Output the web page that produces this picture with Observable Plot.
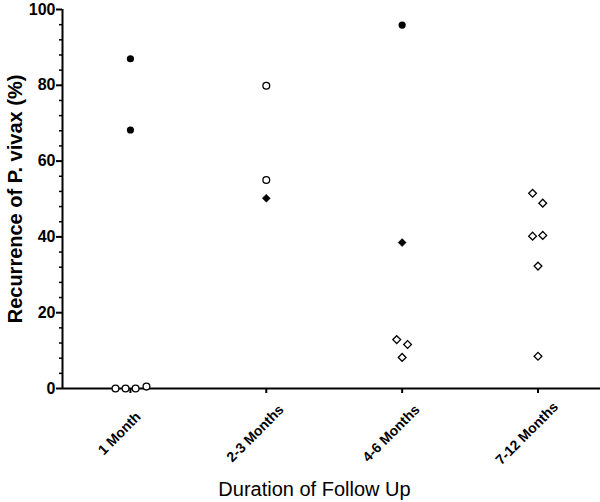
<!DOCTYPE html>
<html><head><meta charset="utf-8">
<script src="https://cdn.jsdelivr.net/npm/d3@7"></script>
<script src="https://cdn.jsdelivr.net/npm/@observablehq/plot@0.6"></script>
<style>body{margin:0;background:#fff;}</style>
</head><body><div id="chart"></div>
<script>
const categories = ["1 Month", "2-3 Months", "4-6 Months", "7-12 Months"];
const yTicks = [0, 20, 40, 60, 80, 100];
const yMinorTicks = [4, 8, 12, 16, 24, 28, 32, 36, 44, 48, 52, 56, 64, 68, 72, 76, 84, 88, 92, 96];
const yLabel = "Recurrence of P. vivax (%)";
const xLabel = "Duration of Follow Up";

// one entry per plotted study
const pointCategory = [0, 0, 0, 0, 0, 0, 1, 1, 1, 2, 2, 2, 2, 2, 3, 3, 3, 3, 3, 3];
const pointJitter = [0, 0, -0.11, -0.036, 0.038, 0.118, 0, 0, 0, 0, 0, -0.04, 0.04, 0, -0.04, 0.035, -0.04, 0.035, 0, 0];
const pointValue = [87.0, 68.2, 0, 0, 0, 0.5, 79.9, 55.0, 50.2, 95.9, 38.5, 12.9, 11.6, 8.2, 51.5, 48.9, 40.2, 40.4, 32.3, 8.5];
const pointMarker = ["filledCircle", "filledCircle", "openCircle", "openCircle", "openCircle", "openCircle",
  "openCircle", "openCircle", "filledDiamond",
  "filledCircle", "filledDiamond", "openDiamond", "openDiamond", "openDiamond",
  "openDiamond", "openDiamond", "openDiamond", "openDiamond", "openDiamond", "openDiamond"];

const data = pointValue.map((v, i) => ({pos: pointCategory[i] + 1 + pointJitter[i], value: v, marker: pointMarker[i]}));
const sel = m => data.filter(d => d.marker === m);

const plot = Plot.plot({
  width: 600, height: 502,
  marginLeft: 62, marginRight: 0, marginTop: 9, marginBottom: 114,
  style: {fontFamily: "'Liberation Sans', Arial, sans-serif", background: "#fff", color: "#000"},
  x: {domain: [0.5, 4.46], axis: null, label: null},
  y: {domain: [0, 100], axis: null, label: null},
  marks: [
    Plot.axisY(yMinorTicks, {tickSize: 3, tickFormat: () => "", strokeWidth: 1.5, label: null}),
    Plot.axisY(yTicks, {tickSize: 6, tickPadding: 1, fontSize: 16, fontWeight: "bold", strokeWidth: 2, label: null}),
    Plot.axisX([1, 2, 3, 4], {tickSize: 5, tickFormat: () => "", strokeWidth: 2, label: null}),
    Plot.ruleY([0], {strokeWidth: 2}),
    Plot.ruleX([0.5], {strokeWidth: 2}),
    Plot.text(categories, {x: (d, i) => i + 1, y: () => 0, text: d => d, rotate: -45,
      textAnchor: "middle", lineAnchor: "middle", dx: -11, dy: 45, fontSize: 14, fontWeight: "bold"}),
    Plot.text([yLabel], {text: d => d, frameAnchor: "left", rotate: -90, textAnchor: "middle",
      lineAnchor: "bottom", dx: -41, fontSize: 20, fontWeight: "bold"}),
    Plot.text([xLabel], {text: d => d, frameAnchor: "bottom", textAnchor: "middle",
      lineAnchor: "bottom", dx: -17, dy: 107, fontSize: 20}),
    Plot.dot(sel("filledCircle"), {x: "pos", y: "value", symbol: "circle", r: 3.6, fill: "black", stroke: "none"}),
    Plot.dot(sel("openCircle"), {x: "pos", y: "value", symbol: "circle", r: 3.4, fill: "white", stroke: "black", strokeWidth: 1.3}),
    Plot.dot(sel("filledDiamond"), {x: "pos", y: "value", symbol: "diamond2", r: 3.6, fill: "black", stroke: "black", strokeWidth: 0.5}),
    Plot.dot(sel("openDiamond"), {x: "pos", y: "value", symbol: "diamond2", r: 3.5, fill: "white", stroke: "black", strokeWidth: 1.3})
  ]
});
document.getElementById("chart").appendChild(plot);
</script>
</body></html>
